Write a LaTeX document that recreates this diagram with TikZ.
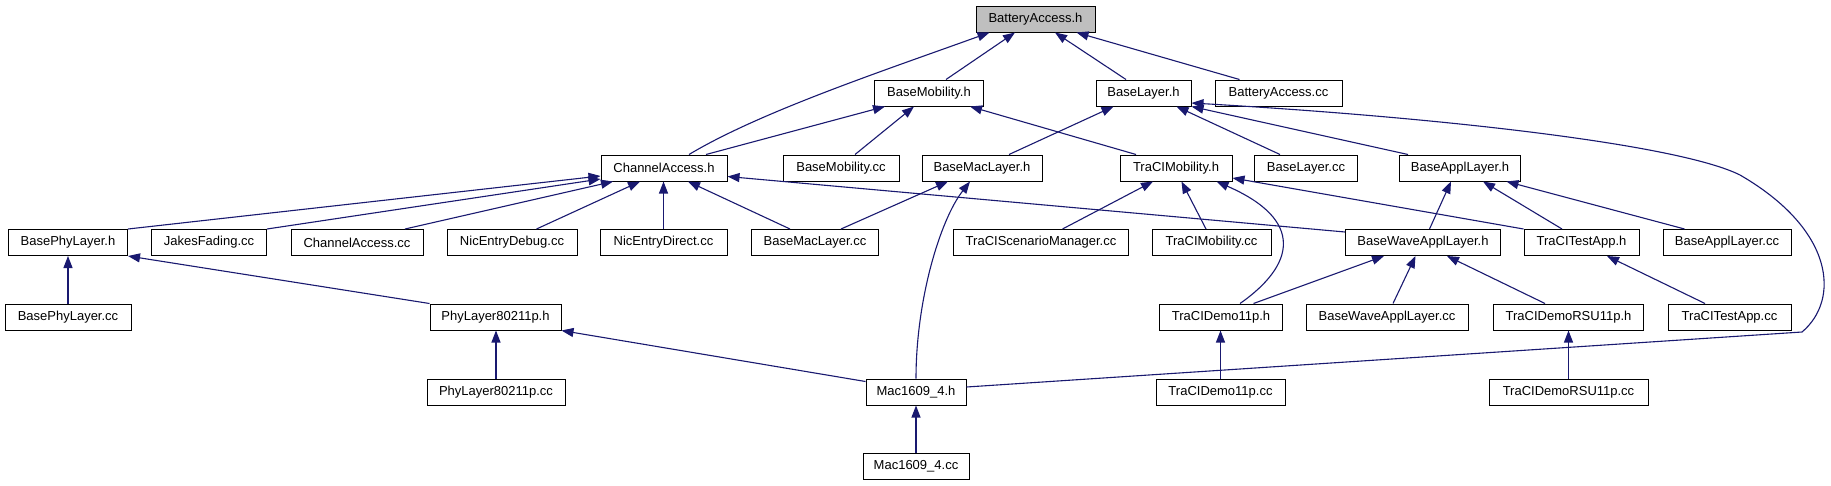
\documentclass[tikz,border=0pt]{standalone}
\usepackage{fontspec}
\setmainfont{Liberation Sans}
\usetikzlibrary{arrows.meta}
\definecolor{edgeblue}{HTML}{191970}
\definecolor{rootgray}{HTML}{BFBFBF}
\begin{document}
\begin{tikzpicture}[x=1pt,y=-1pt,
  box/.style={draw=black, line width=1pt, minimum height=26pt, inner sep=0pt,
    font=\fontsize{13}{15}\selectfont},
  root/.style={box, fill=rootgray},
  edge/.style={draw=edgeblue, line width=1.1pt, -{Triangle[length=12pt,width=9pt]}}]
\path[use as bounding box, fill=white] (0,0) rectangle (1831,485);

% row 0
\node[root, minimum width=119pt] (ba) at (1035.5,19) {BatteryAccess.h};
% row 1
\node[box, minimum width=109pt] (bm) at (929,93) {BaseMobility.h};
\node[box, minimum width=95pt] (bl) at (1143.5,93) {BaseLayer.h};
\node[box, minimum width=127pt] (bacc) at (1278.5,93) {BatteryAccess.cc};
% row 2
\node[box, minimum width=126pt] (ca) at (664,168) {ChannelAccess.h};
\node[box, minimum width=116pt] (bmcc) at (841,168) {BaseMobility.cc};
\node[box, minimum width=120pt] (bmac) at (982,168) {BaseMacLayer.h};
\node[box, minimum width=112pt] (tm) at (1176,168) {TraCIMobility.h};
\node[box, minimum width=103pt] (blcc) at (1306,168) {BaseLayer.cc};
\node[box, minimum width=121pt] (bal) at (1460,168) {BaseApplLayer.h};
% row 3
\node[box, minimum width=119pt] (bph) at (68,242.5) {BasePhyLayer.h};
\node[box, minimum width=115pt] (jf) at (209,242.5) {JakesFading.cc};
\node[box, minimum width=132pt] (cacc) at (357,242.5) {ChannelAccess.cc};
\node[box, minimum width=130pt] (ned) at (512,242.5) {NicEntryDebug.cc};
\node[box, minimum width=127pt] (nedir) at (663.5,242.5) {NicEntryDirect.cc};
\node[box, minimum width=127pt] (bmaccc) at (815,242.5) {BaseMacLayer.cc};
\node[box, minimum width=175pt] (tsm) at (1041,242.5) {TraCIScenarioManager.cc};
\node[box, minimum width=119pt] (tmcc) at (1211.5,242.5) {TraCIMobility.cc};
\node[box, minimum width=155pt] (bwal) at (1423,242.5) {BaseWaveApplLayer.h};
\node[box, minimum width=115pt] (tta) at (1581.5,242.5) {TraCITestApp.h};
\node[box, minimum width=128pt] (balcc) at (1727,242.5) {BaseApplLayer.cc};
% row 4
\node[box, minimum width=126pt] (bphcc) at (68,317) {BasePhyLayer.cc};
\node[box, minimum width=131pt] (phy) at (495.5,317) {PhyLayer80211p.h};
\node[box, minimum width=123pt] (td) at (1221,317) {TraCIDemo11p.h};
\node[box, minimum width=162pt] (bwalcc) at (1387,317) {BaseWaveApplLayer.cc};
\node[box, minimum width=150pt] (tdrsu) at (1568.5,317) {TraCIDemoRSU11p.h};
\node[box, minimum width=123pt] (ttacc) at (1729.5,317) {TraCITestApp.cc};
% row 5
\node[box, minimum width=138pt] (phycc) at (496,392) {PhyLayer80211p.cc};
\node[box, minimum width=100pt] (mac) at (916,392) {Mac1609\_4.h};
\node[box, minimum width=129pt] (tdcc) at (1220.5,392) {TraCIDemo11p.cc};
\node[box, minimum width=159pt] (tdrsucc) at (1568.5,392) {TraCIDemoRSU11p.cc};
% row 6
\node[box, minimum width=106pt] (maccc) at (916,466) {Mac1609\_4.cc};

% edges into BatteryAccess.h
\draw[edge] ([xshift=25pt]ca.north) .. controls (760,112) and (880,72) .. ([xshift=-46pt]ba.south);
\draw[edge] ([xshift=17pt]bm.north) -- ([xshift=-20.5pt]ba.south);
\draw[edge] ([xshift=-17.5pt]bl.north) -- ([xshift=19.5pt]ba.south);
\draw[edge] ([xshift=-39pt]bacc.north) -- ([xshift=41pt]ba.south);

% edges into BaseMobility.h
\draw[edge] ([xshift=42pt]ca.north) -- ([xshift=-44pt]bm.south);
\draw[edge] ([xshift=14pt]bmcc.north) -- ([xshift=-15pt]bm.south);
\draw[edge] ([xshift=-40pt]tm.north) -- ([xshift=41pt]bm.south);

% edges into BaseLayer.h
\draw[edge] ([xshift=27pt]bmac.north) -- ([xshift=-30pt]bl.south);
\draw[edge] ([xshift=-26pt]blcc.north) -- ([xshift=33pt]bl.south);
\draw[edge] ([xshift=-52pt]bal.north) -- (bl.south east);
\draw[edge] ([yshift=5pt]mac.east) -- (1802,332)
  .. controls (1840,300) and (1835,230) .. (1740,175)
  .. controls (1680,145) and (1450,118) .. ([yshift=-10pt]bl.east);

% edges into ChannelAccess.h
\draw[edge] (bph.north east) -- ([yshift=-8pt]ca.west);
\draw[edge] (jf.north east) -- ([yshift=-11pt]ca.west);
\draw[edge] ([xshift=48pt]cacc.north) -- ([xshift=-51pt]ca.south);
\draw[edge] ([xshift=24.5pt]ned.north) -- ([xshift=-24pt]ca.south);
\draw[edge] (nedir.north) -- (nedir.north |- ca.south);
\draw[edge] ([xshift=-25pt]bmaccc.north) -- ([xshift=24pt]ca.south);
\draw[edge] ([yshift=-3pt]bwal.north west) -- ([yshift=-8.5pt]ca.east);

% edges into BaseMacLayer.h
\draw[edge] ([xshift=26pt]bmaccc.north) -- ([xshift=-34pt]bmac.south);
\draw[edge] (mac.north) .. controls (916,300) and (940,220) .. ([xshift=-12pt]bmac.south);

% edges into TraCIMobility.h
\draw[edge] ([xshift=21.5pt]tsm.north) -- ([xshift=-23pt]tm.south);
\draw[edge] ([xshift=-5.5pt]tmcc.north) -- ([xshift=5.5pt]tm.south);
\draw[edge] ([xshift=19pt]td.north) .. controls (1295,265) and (1305,220) .. ([xshift=40.5pt]tm.south);
\draw[edge] (tta.north west) -- ([yshift=-10pt]tm.east);

% edges into BaseApplLayer.h
\draw[edge] ([xshift=6.5pt]bwal.north) -- ([xshift=-9pt]bal.south);
\draw[edge] ([xshift=-19.5pt]tta.north) -- ([xshift=23pt]bal.south);
\draw[edge] ([xshift=-42.5pt]balcc.north) -- ([xshift=46.5pt]bal.south);

% edges into BasePhyLayer.h
\draw[edge] (bphcc.north) -- (bph.south);
\draw[edge] (phy.north west) -- (bph.south east);

% edges into BaseWaveApplLayer.h
\draw[edge] ([xshift=32.5pt]td.north) -- ([xshift=-39pt]bwal.south);
\draw[edge] ([xshift=6pt]bwalcc.north) -- ([xshift=-7.5pt]bwal.south);
\draw[edge] ([xshift=-23.5pt]tdrsu.north) -- ([xshift=24pt]bwal.south);

% edges into TraCITestApp.h
\draw[edge] ([xshift=-24.5pt]ttacc.north) -- ([xshift=25.5pt]tta.south);

% edges into PhyLayer80211p.h
\draw[edge] (phycc.north) -- (phycc.north |- phy.south);
\draw[edge] ([yshift=-3pt]mac.north west) -- (phy.south east);

% lower vertical edges
\draw[edge] (tdcc.north) -- (tdcc.north |- td.south);
\draw[edge] (tdrsucc.north) -- (tdrsucc.north |- tdrsu.south);
\draw[edge] (maccc.north) -- (mac.south);
\end{tikzpicture}
\end{document}
